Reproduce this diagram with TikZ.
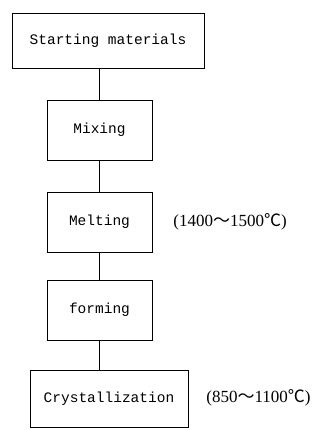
\documentclass[tikz,border=0pt]{standalone}
\usepackage{fontspec}
\newfontfamily\boxfont{Liberation Mono}
\newfontfamily\labfont{Liberation Serif}
\newfontfamily\cjk{Noto Sans CJK JP}
\begin{document}
\begin{tikzpicture}[x=1pt,y=1pt,
  stepbox/.style={draw, line width=0.8pt, minimum height=#1, inner sep=0pt, font=\boxfont\fontsize{14.5}{17}\selectfont},
  lab/.style={font=\labfont\fontsize{17}{19}\selectfont, inner sep=0pt},
  conn/.style={line width=0.8pt}]
\useasboundingbox (0,0) rectangle (321,430);
\node[stepbox=55pt, minimum width=192pt] (start) at (108,389.5) {Starting materials};
\node[stepbox=60pt, minimum width=105pt] (mix) at (99.5,300) {Mixing};
\node[stepbox=60pt, minimum width=105pt] (melt) at (99.5,208) {Melting};
\node[stepbox=60pt, minimum width=105pt] (form) at (99.5,120) {forming};
\node[stepbox=57pt, minimum width=158pt] (cryst) at (109,31.5) {Crystallization};
\node[lab] (l1) at (230,208) {(1400{\cjk 〜}1500{\cjk ℃})};
\node[lab] (l2) at (258.5,32) {(850{\cjk 〜}1100{\cjk ℃})};
\draw[conn] (start.south -| mix.north) -- (mix.north);
\draw[conn] (mix.south) -- (melt.north);
\draw[conn] (melt.south) -- (form.north);
\draw[conn] (form.south) -- (form.south |- cryst.north);
\end{tikzpicture}
\end{document}
